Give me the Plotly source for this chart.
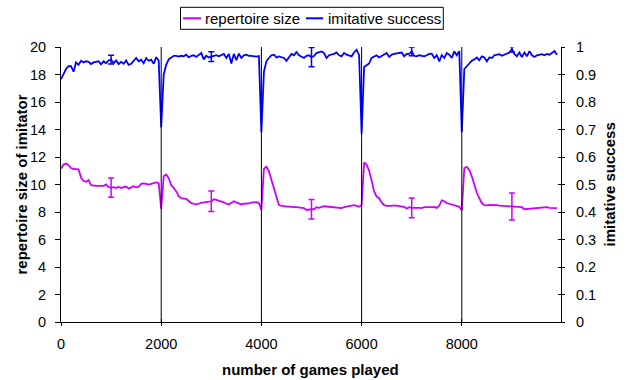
import plotly.graph_objects as go

# ---------------- data ----------------
games = list(range(0, 9901, 50))

repertoire = [
    # 0 - 1950
    11.15, 11.45, 11.52, 11.4, 11.2, 11.12, 11.12, 11.1, 10.5, 10.25,
    10.2, 10.32, 9.95, 9.9, 9.9, 9.9, 9.92, 9.9, 10.0, 9.8,
    9.78, 9.8, 9.75, 9.82, 9.75, 9.82, 9.85, 9.7, 9.82, 9.88,
    9.8, 9.82, 10.05, 10.08, 10.05, 10.0, 10.05, 10.12, 10.15, 10.1,
    # 2000 - 3950
    8.25, 10.6, 10.72, 10.45, 9.95, 9.75, 9.5, 9.15, 9.0, 8.98,
    8.95, 8.8, 8.65, 8.6, 8.55, 8.6, 8.68, 8.7, 8.75, 8.75,
    8.78, 8.93, 8.88, 8.82, 8.78, 8.7, 8.6, 8.55, 8.68, 8.78,
    8.7, 8.6, 8.55, 8.6, 8.6, 8.62, 8.68, 8.7, 8.72, 8.65,
    # 4000 - 5950
    8.15, 11.15, 11.3, 10.95, 10.35, 9.7, 9.1, 8.5, 8.45, 8.42,
    8.4, 8.38, 8.36, 8.35, 8.35, 8.32, 8.3, 8.28, 8.15, 8.2,
    8.2, 8.2, 8.35, 8.3, 8.38, 8.42, 8.4, 8.38, 8.38, 8.37,
    8.37, 8.3, 8.28, 8.35, 8.4, 8.42, 8.45, 8.5, 8.45, 8.38,
    # 6000 - 7950
    8.5, 11.6, 11.45, 11.0, 10.3, 9.5, 9.12, 9.0, 8.7, 8.5,
    8.45, 8.44, 8.45, 8.48, 8.45, 8.44, 8.4, 8.37, 8.25, 8.35,
    8.3, 8.28, 8.3, 8.3, 8.28, 8.35, 8.37, 8.37, 8.36, 8.37,
    8.3, 8.45, 8.85, 8.78, 8.65, 8.6, 8.55, 8.5, 8.45, 8.38,
    # 8000 - 9900
    8.12, 11.2, 11.28, 11.05, 10.6, 10.0, 9.4, 9.0, 8.65, 8.5,
    8.48, 8.52, 8.53, 8.52, 8.5, 8.47, 8.46, 8.45, 8.42, 8.4,
    8.4, 8.38, 8.38, 8.37, 8.35, 8.2, 8.22, 8.25, 8.25, 8.28,
    8.3, 8.3, 8.32, 8.38, 8.35, 8.3, 8.3, 8.3, 8.28,
]

success = [
    # 0 - 1950
    0.883, 0.905, 0.92, 0.93, 0.93, 0.91, 0.944, 0.935, 0.95, 0.944,
    0.948, 0.946, 0.938, 0.944, 0.945, 0.948, 0.937, 0.948, 0.941, 0.951,
    0.954, 0.941, 0.951, 0.938, 0.946, 0.939, 0.951, 0.935, 0.939, 0.949,
    0.96, 0.948, 0.954, 0.941, 0.96, 0.95, 0.954, 0.939, 0.963, 0.951,
    # 2000 - 3950
    0.707, 0.90, 0.935, 0.955, 0.962, 0.968, 0.968, 0.965, 0.968, 0.966,
    0.972, 0.962, 0.968, 0.97, 0.964, 0.97, 0.978, 0.955, 0.968, 0.962,
    0.965, 0.968, 0.97, 0.966, 0.97, 0.975, 0.96, 0.975, 0.94, 0.975,
    0.952, 0.976, 0.96, 0.97, 0.972, 0.968, 0.968, 0.966, 0.965, 0.967,
    # 4000 - 5950
    0.69, 0.91, 0.948, 0.96, 0.97, 0.972, 0.962, 0.966, 0.963, 0.96,
    0.95, 0.963, 0.975, 0.97, 0.982, 0.97, 0.965, 0.96, 0.968, 0.97,
    0.963, 0.967, 0.978, 0.98, 0.984, 0.978, 0.96, 0.97, 0.972, 0.975,
    0.98, 0.97, 0.966, 0.978, 0.972, 0.97, 0.966, 0.98, 0.99, 0.97,
    # 6000 - 7950
    0.685, 0.927, 0.935, 0.94, 0.96, 0.965, 0.97, 0.962, 0.968, 0.975,
    0.978, 0.964, 0.972, 0.975, 0.977, 0.978, 0.98, 0.966, 0.975, 0.975,
    0.984, 0.968, 0.966, 0.97, 0.968, 0.966, 0.97, 0.975, 0.976, 0.96,
    0.97, 0.948, 0.97, 0.96, 0.978, 0.972, 0.96, 0.984, 0.97, 0.985,
    # 8000 - 9900
    0.69, 0.92, 0.93, 0.94, 0.95, 0.955, 0.962, 0.952, 0.966, 0.962,
    0.948, 0.962, 0.96, 0.97, 0.972, 0.974, 0.968, 0.972, 0.975, 0.98,
    0.992, 0.975, 0.966, 0.98, 0.963, 0.98, 0.966, 0.985, 0.97, 0.964,
    0.97, 0.972, 0.974, 0.97, 0.975, 0.972, 0.978, 0.985, 0.972,
]

err_games = [1000, 3000, 5000, 7000, 9000]
repertoire_err = [0.7, 0.75, 0.71, 0.71, 0.99]
success_err = [0.016, 0.018, 0.035, 0.016, 0.01]

reset_points = [2000, 4000, 6000, 8000]
x_ticks = [0, 2000, 4000, 6000, 8000]

PURPLE = "#CC00FF"
BLUE = "#0000FF"
FONT = "Liberation Sans, Arial, sans-serif"

# ---------------- layout geometry (px) ----------------
W, H = 642, 380
L, R, T, B = 61, 81, 47, 58
PW, PH = W - L - R, H - T - B


def px(xp):
    return (xp - L) / PW


def py(yp):
    return (H - B - yp) / PH


fig = go.Figure()

fig.add_trace(go.Scatter(
    x=games, y=repertoire, mode="lines", name="repertoire size",
    line=dict(color=PURPLE, width=1.8), yaxis="y", showlegend=False))
fig.add_trace(go.Scatter(
    x=games, y=success, mode="lines", name="imitative success",
    line=dict(color=BLUE, width=1.8), yaxis="y2", showlegend=False))

idx = [games.index(g) for g in err_games]
fig.add_trace(go.Scatter(
    x=err_games, y=[repertoire[i] for i in idx], mode="markers",
    marker=dict(size=1, opacity=0), yaxis="y", showlegend=False,
    error_y=dict(type="data", array=repertoire_err, color=PURPLE,
                 thickness=1.5, width=3)))
fig.add_trace(go.Scatter(
    x=err_games, y=[success[i] for i in idx], mode="markers",
    marker=dict(size=1, opacity=0), yaxis="y2", showlegend=False,
    error_y=dict(type="data", array=success_err, color=BLUE,
                 thickness=1.5, width=3)))

shapes = []
for g in reset_points:
    shapes.append(dict(type="line", xref="x", yref="paper", x0=g, x1=g,
                       y0=0, y1=1, line=dict(color="black", width=1)))

# legend (manual)
leg_y = 18.3
shapes.append(dict(type="rect", xref="paper", yref="paper",
                   x0=px(180.5), x1=px(443.3), y0=py(29.3), y1=py(7.3),
                   line=dict(color="black", width=1), fillcolor="white"))
shapes.append(dict(type="line", xref="paper", yref="paper",
                   x0=px(183), x1=px(201), y0=py(leg_y), y1=py(leg_y),
                   line=dict(color=PURPLE, width=2)))
shapes.append(dict(type="line", xref="paper", yref="paper",
                   x0=px(306), x1=px(323), y0=py(leg_y), y1=py(leg_y),
                   line=dict(color=BLUE, width=2)))

annotations = [
    dict(text="repertoire size", x=px(203), y=py(leg_y), xref="paper", yref="paper",
         xanchor="left", yanchor="middle", showarrow=False,
         font=dict(family=FONT, size=15, color="black")),
    dict(text="imitative success", x=px(325.5), y=py(leg_y), xref="paper", yref="paper",
         xanchor="left", yanchor="middle", showarrow=False,
         font=dict(family=FONT, size=15, color="black")),
    dict(text="<b>number of games played</b>", x=px(310.7), y=py(369), xref="paper",
         yref="paper", xanchor="center", yanchor="middle", showarrow=False,
         font=dict(family=FONT, size=15, color="black")),
    dict(text="<b>repertoire size of imitator</b>", x=px(21), y=0.5, xref="paper",
         yref="paper", xanchor="center", yanchor="middle", showarrow=False,
         textangle=-90, font=dict(family=FONT, size=15, color="black")),
    dict(text="<b>imitative success</b>", x=px(609), y=0.5, xref="paper",
         yref="paper", xanchor="center", yanchor="middle", showarrow=False,
         textangle=-90, font=dict(family=FONT, size=15, color="black")),
]

tickfont = dict(family=FONT, size=14.5, color="black")
XR = [0, 9980]

fig.update_layout(
    width=W, height=H,
    margin=dict(l=L, r=R, t=T, b=B, pad=0),
    paper_bgcolor="white", plot_bgcolor="white",
    font=dict(family=FONT, color="black"),
    showlegend=False,
    xaxis=dict(range=XR, tickvals=x_ticks, ticks="outside", ticklen=3,
               tickcolor="black", showline=True, linecolor="black", linewidth=1,
               showgrid=False, zeroline=False, tickfont=tickfont,
               ticklabelstandoff=6),
    xaxis2=dict(range=XR, tickvals=x_ticks, ticks="inside", ticklen=3,
                tickcolor="black", overlaying="x", anchor="y",
                showticklabels=False, showgrid=False, zeroline=False,
                showline=False),
    yaxis=dict(range=[0, 20], dtick=2, ticks="outside", ticklen=5,
               tickcolor="black", showline=True, linecolor="black", linewidth=1,
               showgrid=False, zeroline=False, tickfont=tickfont,
               ticklabelstandoff=6),
    yaxis2=dict(range=[0, 1], dtick=0.1, ticks="outside", ticklen=3,
                tickcolor="black", showline=True, linecolor="black", linewidth=1,
                showgrid=False, zeroline=False, tickfont=tickfont,
                overlaying="y", side="right", anchor="x",
                ticklabelstandoff=8),
    yaxis3=dict(range=[0, 1], dtick=0.1, ticks="inside", ticklen=3,
                tickcolor="black", showline=False, showgrid=False,
                zeroline=False, showticklabels=False,
                overlaying="y", side="right", anchor="x"),
    shapes=shapes,
    annotations=annotations,
)

# dummy traces to activate the overlay tick axes
fig.add_trace(go.Scatter(x=[None], y=[None], xaxis="x2", yaxis="y", showlegend=False,
                         hoverinfo="skip"))
fig.add_trace(go.Scatter(x=[None], y=[None], xaxis="x", yaxis="y3", showlegend=False,
                         hoverinfo="skip"))

fig.write_html("out.html")
